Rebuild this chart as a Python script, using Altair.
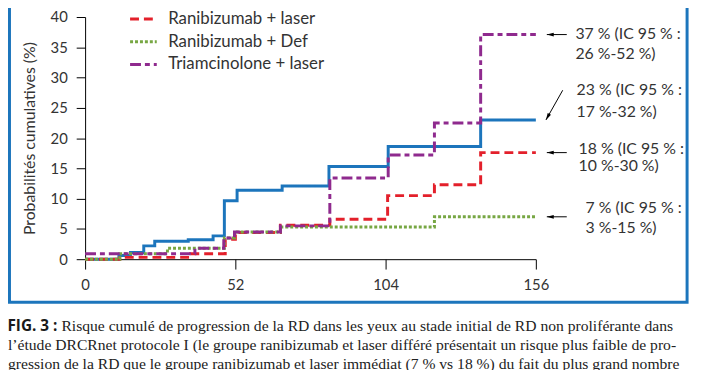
import math
import altair as alt
import pandas as pd

# ---------------- data ----------------
series_names = ["Laser", "Ranibizumab + laser", "Ranibizumab + Def", "Triamcinolone + laser"]

laser_weeks = [0, 11.7, 15.7, 20.3, 24.1, 35.7, 44.3, 48.2, 52.6, 68.2, 84.4, 104.9, 136.9, 156]
laser_pct = [0, 0.6, 1.1, 2.2, 2.95, 3.2, 3.85, 9.65, 11.4, 12.1, 15.3, 18.6, 23.0, 23.0]

ranilaser_weeks = [0, 12, 36.5, 48.5, 52, 67.6, 84.7, 104.7, 120.9, 136.9, 156]
ranilaser_pct = [0, 0.3, 0.9, 3.3, 4.4, 5.6, 6.6, 10.5, 12.3, 17.6, 17.6]

ranidef_weeks = [0, 12, 28.5, 48.2, 51.7, 67.6, 120.9, 156]
ranidef_pct = [0, 0.9, 1.8, 3.5, 4.5, 5.3, 7.0, 7.0]

triam_weeks = [0, 38, 48, 51.7, 67.6, 84.7, 104.9, 120.9, 136.9, 156]
triam_pct = [0.9, 1.8, 3.5, 4.5, 5.5, 13.4, 17.2, 22.5, 37.1, 37.1]

x_ticks = [0, 52, 104, 156]
y_ticks = [0, 5, 10, 15, 20, 25, 30, 35, 40]

ann_line1 = ["37 % (IC 95 % :", "23 % (IC 95 % :", "18 % (IC 95 % :", "7 % (IC 95 % :"]
ann_line2 = ["26 %-52 %)", "17 %-32 %)", "10 %-30 %)", "3 %-15 %)"]
ann_x = [169.7, 170.1, 170.8, 173.2]
ann_y1 = [37.2, 27.9, 18.2, 8.5]
ann_y2 = [33.8, 24.3, 15.3, 5.2]

arrow_tail_x = [166.7, 165.3, 166.7, 166.7]
arrow_tail_y = [37.1, 27.9, 17.6, 7.0]
arrow_head_x = [159.8, 159.5, 159.8, 159.8]
arrow_head_y = [37.1, 23.0, 17.6, 7.0]

caption_bold = "FIG. 3 :"
caption_lines = [
    "Risque cumulé de progression de la RD dans les yeux au stade initial de RD non proliférante dans",
    "l’étude DRCRnet protocole I (le groupe ranibizumab et laser différé présentait un risque plus faible de pro-",
    "gression de la RD que le groupe ranibizumab et laser immédiat (7 % vs 18 %) du fait du plus grand nombre",
]

# ---------------- styles ----------------
colors = ["#1c75bc", "#e3202b", "#77a743", "#8f2a8e"]
dashes = [[1, 0], [9, 5], [3, 2], [11, 4, 5, 4]]
widths = [3, 3, 2, 3]
FONT = "Lato"
TXT = "#333333"
CAP = "Liberation Serif"
CAPSIZE = 15.8

TOP = 7
W, H = 456, 245
XMAX, YMAX = 156, 40
px_per_x = W / XMAX
px_per_y = H / YMAX

# ---------------- frames ----------------
rows = []
for name, wk, pc in [
    (series_names[0], laser_weeks, laser_pct),
    (series_names[1], ranilaser_weeks, ranilaser_pct),
    (series_names[2], ranidef_weeks, ranidef_pct),
    (series_names[3], triam_weeks, triam_pct),
]:
    for w, p in zip(wk, pc):
        rows.append({"serie": name, "week": w, "pct": p})
df = pd.DataFrame(rows)

ann1 = pd.DataFrame({"x": ann_x, "y": ann_y1, "t": ann_line1})
ann2 = pd.DataFrame({"x": ann_x, "y": ann_y2, "t": ann_line2})

angles = []
for tx, ty, hx, hy in zip(arrow_tail_x, arrow_tail_y, arrow_head_x, arrow_head_y):
    dx = (tx - hx) * px_per_x
    dy = -(ty - hy) * px_per_y
    angles.append(math.degrees(math.atan2(dy, dx)) % 360)
arrows = pd.DataFrame({"tx": arrow_tail_x, "ty": arrow_tail_y,
                       "hx": arrow_head_x, "hy": arrow_head_y, "ang": angles})

xscale = alt.Scale(domain=[0, XMAX], nice=False, zero=False)
yscale = alt.Scale(domain=[0, YMAX], nice=False)

xaxis = alt.Axis(values=x_ticks, title=None, grid=False, tickSize=10,
                 labelPadding=9, labelFontSize=15, labelFont=FONT,
                 labelColor=TXT, domainColor="black", tickColor="black",
                 labelFlush=False, labelOverlap=False)
yaxis = alt.Axis(values=y_ticks, title="Probabilités cumulatives (%)",
                 grid=False, tickSize=9, labelPadding=9, labelFontSize=15,
                 labelFont=FONT, labelColor=TXT, domainColor="black",
                 tickColor="black", titleFont=FONT, titleFontSize=16,
                 titleFontWeight="normal", titleColor=TXT, titlePadding=13,
                 labelFlush=False, labelOverlap=False)


def X(field):
    return alt.X(field, type="quantitative", scale=xscale, axis=xaxis)


def Y(field):
    return alt.Y(field, type="quantitative", scale=yscale, axis=yaxis)


leg = alt.Legend(title=None, orient="none", legendX=44, legendY=-36,
                 symbolType="stroke", symbolSize=729, symbolStrokeWidth=3,
                 labelFontSize=17, labelFont=FONT, labelColor=TXT, labelOffset=10,
                 rowPadding=-9)

lines = alt.Chart(df).mark_line(interpolate="step-after").encode(
    x=X("week"),
    y=Y("pct"),
    color=alt.Color("serie:N", scale=alt.Scale(domain=series_names, range=colors),
                    sort=series_names, legend=leg),
    strokeDash=alt.StrokeDash("serie:N", scale=alt.Scale(domain=series_names, range=dashes),
                              sort=series_names, legend=leg),
    strokeWidth=alt.StrokeWidth("serie:N", scale=alt.Scale(domain=series_names, range=widths),
                                legend=None),
)

t1 = alt.Chart(ann1).mark_text(align="left", baseline="middle", font=FONT,
                               fontSize=16, color=TXT).encode(
    x=X("x"), y=Y("y"), text="t:N")
t2 = alt.Chart(ann2).mark_text(align="left", baseline="middle", font=FONT,
                               fontSize=16, color=TXT).encode(
    x=X("x"), y=Y("y"), text="t:N")

arrow_lines = alt.Chart(arrows).mark_rule(color="black", strokeWidth=1).encode(
    x=X("hx"), y=Y("hy"), x2="tx:Q", y2="ty:Q")
arrow_heads = alt.Chart(arrows).mark_point(
    shape="M0,0L2,-0.55L2,0.55Z", filled=True, color="black", opacity=1, size=49
).encode(x=X("hx"), y=Y("hy"), angle=alt.Angle("ang:Q", scale=None))

one = pd.DataFrame({"k": [0]})
frame = alt.Chart(one).mark_rect(fill="transparent", stroke="#1c75bc", strokeWidth=3).encode(
    x=alt.value(-76.5), x2=alt.value(609), y=alt.value(-40), y2=alt.value(303.5 - 8 - TOP))

cap_b = alt.Chart(one).mark_text(text=caption_bold, align="right", baseline="alphabetic",
                                 font="Open Sans", fontWeight="bold", fontSize=15.5,
                                 color="#1a1a1a").encode(x=alt.value(-28), y=alt.value(333 - 8 - TOP))
cap_1 = alt.Chart(one).mark_text(text=caption_lines[0], align="left", baseline="alphabetic",
                                 font=CAP, fontSize=CAPSIZE,
                                 color="#222222").encode(x=alt.value(-24), y=alt.value(333 - 8 - TOP))
cap_2 = alt.Chart(one).mark_text(text=caption_lines[1], align="left", baseline="alphabetic",
                                 font=CAP, fontSize=CAPSIZE,
                                 color="#222222").encode(x=alt.value(-78), y=alt.value(352 - 8 - TOP))
cap_3 = alt.Chart(one).mark_text(text=caption_lines[2], align="left", baseline="alphabetic",
                                 font=CAP, fontSize=CAPSIZE,
                                 color="#222222").encode(x=alt.value(-78), y=alt.value(371 - 8 - TOP))

chart = alt.layer(frame, lines, arrow_lines, arrow_heads, t1, t2, cap_b, cap_1, cap_2, cap_3).properties(
    width=W, height=H,
    autosize=alt.AutoSizeParams(type="none"),
    padding={"left": 78, "top": TOP, "right": 160, "bottom": 362 - TOP - H},
    background="white",
).configure_view(strokeWidth=0)

chart.save("out.html", embed_options={"renderer": "svg", "actions": False})
